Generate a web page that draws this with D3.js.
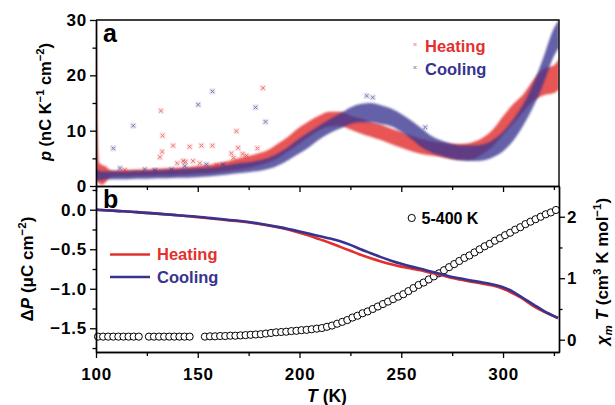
<!DOCTYPE html>
<html>
<head>
<meta charset="utf-8">
<script src="https://cdn.jsdelivr.net/npm/d3@7/dist/d3.min.js"></script>
<style>
  body { margin: 0; background: #fff; }
  svg { font-family: "Liberation Sans", Arial, Helvetica, sans-serif; font-weight: bold; }
</style>
</head>
<body>
<svg id="chart" width="615" height="405"></svg>
<script>
// panel a : edges of the scattered p(T) band, heating and cooling
const bandT    = [100, 100.5, 101.5, 103, 105, 107, 110, 115, 120, 125, 130, 135, 140, 145, 150, 155, 160, 165, 170, 175, 180, 185, 190, 195, 200, 205, 210, 215, 220, 225, 230, 235, 240, 245, 250, 255, 260, 265, 270, 275, 280, 285, 290, 295, 300, 305, 310, 315, 320, 325, 327.5]
const heatLow  = [1.2, 0.8, 0.5, 0.2, 0.8, 1.6, 1.7, 1.7, 1.8, 1.8, 1.9, 1.9, 2.0, 2.1, 2.2, 2.3, 2.5, 2.7, 3.0, 3.3, 3.7, 4.3, 5.2, 6.4, 7.7, 9.0, 10.1, 10.8, 10.9, 10.2, 9.5, 8.9, 8.3, 7.6, 6.9, 6.3, 5.8, 5.5, 5.2, 4.9, 4.8, 4.9, 5.8, 7.2, 9.2, 11.2, 13.4, 15.4, 16.4, 16.8, 17.5]
const heatHigh = [30, 14, 4.2, 3.8, 3.5, 2.9, 2.8, 2.9, 3.0, 3.0, 3.1, 3.2, 3.3, 3.4, 3.6, 3.8, 4.1, 4.5, 5.0, 5.4, 5.9, 6.6, 7.8, 9.1, 10.6, 11.8, 12.8, 13.4, 13.4, 12.7, 12.2, 11.6, 11.1, 10.4, 9.8, 9.1, 8.5, 8.1, 7.8, 7.6, 7.6, 7.9, 8.7, 10.2, 12.6, 14.8, 16.6, 19.2, 21.2, 21.8, 23]
const coolLow  = [1.0, 1.0, 1.1, 1.1, 1.2, 1.2, 1.2, 1.2, 1.3, 1.3, 1.4, 1.4, 1.5, 1.5, 1.6, 1.7, 1.9, 2.1, 2.3, 2.5, 2.7, 3.1, 3.8, 4.8, 5.9, 7.1, 8.5, 9.6, 10.4, 11.2, 11.5, 11.5, 11.2, 10.8, 9.8, 8.5, 7.0, 6.0, 5.4, 4.9, 4.6, 4.5, 4.6, 5.2, 6.3, 8.2, 11.0, 14.4, 18.6, 23.5, 25]
const coolHigh = [3.0, 3.0, 2.8, 2.6, 2.6, 2.6, 2.6, 2.6, 2.7, 2.7, 2.8, 2.9, 3.0, 3.1, 3.2, 3.3, 3.5, 3.8, 4.1, 4.3, 4.6, 5.1, 6.0, 7.2, 8.6, 9.8, 11.0, 12.1, 13.1, 14.2, 14.8, 15.0, 14.6, 14.0, 13.0, 11.8, 10.4, 9.0, 8.2, 7.6, 7.3, 7.3, 7.5, 8.3, 9.8, 12.0, 14.8, 18.6, 23.4, 28.5, 30]

// stray points off the band
const heatStray = [[114.2, 2.9], [131.9, 13.6], [132.7, 9.1], [132.5, 6.2], [131.4, 5.2], [137.9, 7.3], [139.9, 4.1], [142.8, 4.5], [144, 4.4],
  [146, 7.1], [147.7, 4.5], [151, 4.1], [151.8, 7.3], [157.2, 7.3], [159.2, 3.8], [166.5, 5.9], [167.6, 5.1], [169, 9.9], [169.8, 6.9],
  [172, 5.8], [173.9, 5.5], [179.3, 6.8], [182, 17.7]]
const coolStray = [[108.5, 6.8], [111.8, 3.2], [118.3, 10.9], [124, 3.0], [128.9, 2.9], [137.1, 3.0], [143.6, 3.6], [150.2, 14.7],
  [154.2, 3.9], [157.2, 17.1], [162.4, 3.9], [178.4, 14.2], [183.3, 11.6], [233, 16.3], [236, 16.0], [261.8, 10.6]]

// panel b : Delta P curves
const dpT    = [100, 110, 120, 130, 140, 150, 160, 170, 180, 190, 200, 205, 210, 215, 220, 225, 230, 235, 240, 245, 250, 255, 260, 265, 270, 275, 280, 285, 290, 295, 300, 305, 310, 315, 320, 327]
const dpHeat = [0, -0.015, -0.03, -0.05, -0.07, -0.095, -0.12, -0.145, -0.18, -0.225, -0.29, -0.33, -0.375, -0.42, -0.47, -0.52, -0.57, -0.615, -0.655, -0.69, -0.72, -0.745, -0.77, -0.80, -0.83, -0.865, -0.89, -0.915, -0.935, -0.96, -1.0, -1.06, -1.13, -1.22, -1.29, -1.37]
const dpCool = [0, -0.015, -0.03, -0.05, -0.07, -0.09, -0.115, -0.14, -0.175, -0.22, -0.275, -0.305, -0.335, -0.365, -0.40, -0.445, -0.50, -0.55, -0.60, -0.645, -0.685, -0.72, -0.75, -0.785, -0.815, -0.85, -0.875, -0.90, -0.92, -0.945, -0.98, -1.04, -1.12, -1.20, -1.28, -1.37]

// panel b : chi_m T (right axis)
const chiT   = [101, 103.5, 106, 108.5, 111, 113.5, 116, 118.5, 121, 126, 128.5, 131, 133.5, 136, 138.5, 141, 143.5, 146, 153.5, 156, 158.5, 161, 163.5, 166, 168.5, 171, 173.5, 176, 178.5, 181, 183.5, 186, 188.5, 191, 193.5, 196, 198.5, 201, 203.5, 206, 208.5, 211, 213.5, 216, 218.5, 221, 223.5, 226, 228.5, 231, 233.5, 236, 238.5, 241, 243.5, 246, 248.5, 251, 253.5, 256, 258.5, 261, 263.5, 266, 268.5, 271, 273.5, 276, 278.5, 281, 283.5, 286, 288.5, 291, 293.5, 296, 298.5, 301, 303.5, 306, 308.5, 311, 313.5, 316, 318.5, 321, 323.5, 326]
const chiVal = [0.05, 0.05, 0.05, 0.05, 0.05, 0.05, 0.05, 0.05, 0.05, 0.05, 0.05, 0.05, 0.05, 0.05, 0.05, 0.05, 0.05, 0.05, 0.05, 0.055, 0.055, 0.06, 0.06, 0.065, 0.065, 0.07, 0.075, 0.08, 0.085, 0.09, 0.10, 0.11, 0.12, 0.125, 0.13, 0.14, 0.145, 0.155, 0.16, 0.17, 0.18, 0.19, 0.21, 0.23, 0.26, 0.29, 0.32, 0.36, 0.39, 0.43, 0.46, 0.50, 0.54, 0.58, 0.62, 0.66, 0.70, 0.74, 0.79, 0.84, 0.89, 0.93, 0.98, 1.03, 1.08, 1.13, 1.18, 1.23, 1.28, 1.33, 1.37, 1.42, 1.47, 1.52, 1.56, 1.61, 1.65, 1.70, 1.74, 1.79, 1.83, 1.88, 1.92, 1.96, 2.00, 2.04, 2.07, 2.11]

const xTicks = [100, 150, 200, 250, 300]
const xMinor = [125, 175, 225, 275, 325]
const pTicks = [0, 10, 20, 30]
const pMinor = [5, 15, 25]
const dpTicks = [0, -0.5, -1, -1.5]
const dpMinor = [0.25, -0.25, -0.75, -1.25, -1.75]
const chiTicks = [0, 1, 2]
const chiMinor = [0.5, 1.5]

const RED = '#e3302d'
const BLUE = '#37338f'

const svg = d3.select('#chart')
const L = 96, R = 559, TOP = 20, MID = 186, BOT = 352

const x = d3.scaleLinear().domain([100, 327.5]).range([L, R])
const yA = d3.scaleLinear().domain([0, 30]).range([MID, TOP])
const yB = d3.scaleLinear().domain([-1.8, 0.3]).range([BOT, MID])
const yR = d3.scaleLinear().domain([-0.2, 2.5]).range([BOT, MID])

const defs = svg.append('defs')
defs.append('clipPath').attr('id', 'clipA')
  .append('rect').attr('x', L).attr('y', TOP).attr('width', R - L).attr('height', MID - TOP)
defs.append('filter').attr('id', 'soft').attr('x', '-5%').attr('y', '-5%').attr('width', '110%').attr('height', '110%')
  .append('feGaussianBlur').attr('stdDeviation', 1.1)

// ---------- panel a ----------
const gA = svg.append('g').attr('clip-path', 'url(#clipA)')

const band = (lo, hi) => bandT.map((t, i) => ({ t, lo: lo[i], hi: hi[i] }))
const area = d3.area()
  .x(d => x(d.t))
  .y0(d => yA(d.lo))
  .y1(d => yA(d.hi))
  .curve(d3.curveMonotoneX)

gA.append('path').datum(band(heatLow, heatHigh))
  .attr('d', area).attr('fill', RED).attr('fill-opacity', 0.82).attr('filter', 'url(#soft)')
gA.append('path').datum(band(coolLow, coolHigh))
  .attr('d', area).attr('fill', BLUE).attr('fill-opacity', 0.78).attr('filter', 'url(#soft)')

const cross = s => `M${-s},${-s}L${s},${s}M${-s},${s}L${s},${-s}`
function strays(data, color) {
  const g = gA.append('g')
  const pts = g.selectAll('g').data(data).join('g')
    .attr('transform', d => `translate(${x(d[0])},${yA(d[1])})`)
  pts.append('rect').attr('x', -3).attr('y', -3).attr('width', 6).attr('height', 6)
    .attr('fill', color).attr('opacity', 0.13)
  pts.append('path').attr('d', cross(1.8)).attr('stroke', color).attr('stroke-width', 1).attr('opacity', 0.6)
}
strays(heatStray, RED)
strays(coolStray, BLUE)

// axes of panel a
const styleAxis = (g) => {
  g.select('.domain').attr('stroke', '#000').attr('stroke-width', 1.4)
  g.selectAll('.tick line').attr('stroke', '#000').attr('stroke-width', 1.3)
  g.selectAll('text').attr('font-size', 17).attr('fill', '#000')
    .attr('font-family', '"Liberation Sans", Arial, sans-serif').attr('font-weight', 'bold')
    .attr('letter-spacing', 0.8)
}

svg.append('g').attr('transform', `translate(${L},0)`)
  .call(d3.axisLeft(yA).tickValues(pTicks).tickSize(6).tickPadding(3).tickSizeOuter(0))
  .call(styleAxis)
svg.append('g').attr('transform', `translate(${L},0)`)
  .call(d3.axisLeft(yA).tickValues(pMinor).tickSize(3.5).tickFormat('').tickSizeOuter(0))
  .call(styleAxis)
svg.append('g').attr('transform', `translate(0,${MID})`)
  .call(d3.axisBottom(x).tickValues(xTicks).tickSize(6).tickFormat('').tickSizeOuter(0))
  .call(styleAxis)
svg.append('g').attr('transform', `translate(0,${MID})`)
  .call(d3.axisBottom(x).tickValues(xMinor).tickSize(4).tickFormat('').tickSizeOuter(0))
  .call(styleAxis)
svg.append('path').attr('d', `M${L},${TOP}H${R}V${MID}`)
  .attr('fill', 'none').attr('stroke', '#000').attr('stroke-width', 1.4)

svg.append('text').attr('x', 103).attr('y', 41.5).attr('font-size', 25).text('a')

// legend a
const legA = [['Heating', RED, 44.5], ['Cooling', BLUE, 67.5]]
legA.forEach(([name, color, yy]) => {
  svg.append('path').attr('transform', `translate(415,${yy})`).attr('d', cross(1.5))
    .attr('stroke', color).attr('stroke-width', 1).attr('opacity', 0.6)
  svg.append('text').attr('x', 425).attr('y', yy + 7).attr('font-size', 16.5).attr('fill', color).text(name)
})

// ---------- panel b ----------
svg.append('g').selectAll('circle')
  .data(chiT.map((t, i) => [t, chiVal[i]]))
  .join('circle')
  .attr('cx', d => x(d[0])).attr('cy', d => yR(d[1])).attr('r', 3.6)
  .attr('fill', '#fff').attr('stroke', '#000').attr('stroke-width', 1)

const line = d3.line().x(d => x(d[0])).y(d => yB(d[1])).curve(d3.curveMonotoneX)
svg.append('path').datum(dpT.map((t, i) => [t, dpHeat[i]]))
  .attr('d', line).attr('fill', 'none').attr('stroke', RED).attr('stroke-width', 2.6)
svg.append('path').datum(dpT.map((t, i) => [t, dpCool[i]]))
  .attr('d', line).attr('fill', 'none').attr('stroke', BLUE).attr('stroke-width', 2.6)

svg.append('g').attr('transform', `translate(${L},0)`)
  .call(d3.axisLeft(yB).tickValues(dpTicks).tickSize(6).tickPadding(3).tickFormat(d3.format('.1f')).tickSizeOuter(0))
  .call(styleAxis)
svg.append('g').attr('transform', `translate(${L},0)`)
  .call(d3.axisLeft(yB).tickValues(dpMinor).tickSize(3.5).tickFormat('').tickSizeOuter(0))
  .call(styleAxis)
svg.append('g').attr('transform', `translate(0,${BOT})`)
  .call(d3.axisBottom(x).tickValues(xTicks).tickSize(6).tickPadding(9.5).tickSizeOuter(0))
  .call(styleAxis)
svg.append('g').attr('transform', `translate(0,${BOT})`)
  .call(d3.axisBottom(x).tickValues(xMinor).tickSize(4).tickFormat('').tickSizeOuter(0))
  .call(styleAxis)
svg.append('g').attr('transform', `translate(${R},0)`)
  .call(d3.axisRight(yR).tickValues(chiTicks).tickSize(6).tickPadding(2).tickFormat(d3.format('d')).tickSizeOuter(0))
  .call(styleAxis)
svg.append('g').attr('transform', `translate(${R},0)`)
  .call(d3.axisRight(yR).tickValues(chiMinor).tickSize(3.5).tickFormat('').tickSizeOuter(0))
  .call(styleAxis)

svg.append('text').attr('x', 103).attr('y', 207.5).attr('font-size', 25).text('b')

// legend b
const legB = [['Heating', RED, 254.5], ['Cooling', BLUE, 277]]
legB.forEach(([name, color, yy]) => {
  svg.append('line').attr('x1', 110).attr('x2', 150).attr('y1', yy).attr('y2', yy)
    .attr('stroke', color).attr('stroke-width', 2.6)
  svg.append('text').attr('x', 157).attr('y', yy + 5.5).attr('font-size', 16.5).attr('fill', color).text(name)
})
svg.append('circle').attr('cx', 411.7).attr('cy', 218).attr('r', 3.6)
  .attr('fill', '#fff').attr('stroke', '#000').attr('stroke-width', 1)
svg.append('text').attr('x', 421.5).attr('y', 223.5).attr('font-size', 16).text('5-400 K')

// ---------- axis titles ----------
function title(tx, ty, rot, parts, size) {
  const t = svg.append('text').attr('transform', `translate(${tx},${ty}) rotate(${rot})`)
    .attr('text-anchor', 'middle').attr('font-size', size)
  parts.forEach(([s, kind]) => {
    const sp = t.append('tspan').text(s)
    if (kind === 'i') sp.attr('font-style', 'italic')
    if (kind === 'sup') sp.attr('font-size', size * 0.68).attr('dy', -size * 0.4)
    if (kind === 'back') sp.attr('dy', size * 0.4)
    if (kind === 'sub') sp.attr('font-size', size * 0.68).attr('font-style', 'italic').attr('dy', size * 0.25)
    if (kind === 'iback') sp.attr('font-style', 'italic').attr('dy', -size * 0.25)
  })
}
title(50.5, 102, -90, [['p', 'i'], [' (nC K'], ['\u22121', 'sup'], [' cm', 'back'], ['\u22122', 'sup'], [')', 'back']], 16.5)
title(33, 269, -90, [['\u0394'], ['P', 'i'], [' (\u03bcC cm'], ['\u22122', 'sup'], [')', 'back']], 17)
title(608, 271.5, -90, [['\u03c7', 'i'], ['m', 'sub'], [' T', 'iback'], [' (cm'], ['3', 'sup'], [' K mol', 'back'], ['\u22121', 'sup'], [')', 'back']], 17)
title(327, 401.5, 0, [['T', 'i'], [' (K)']], 17.5)
</script>
</body>
</html>
